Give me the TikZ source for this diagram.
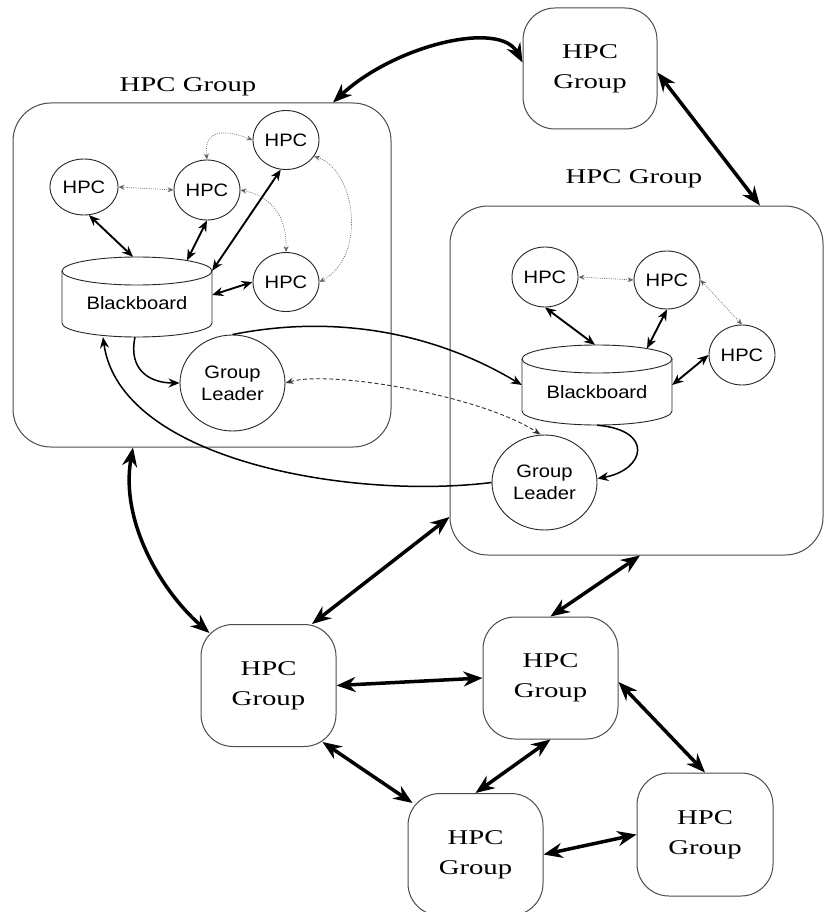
\documentclass[tikz,border=0pt]{standalone}
\usepackage{fontspec}
\usepackage{graphicx}
\setmainfont{Liberation Serif}
\setsansfont{Liberation Sans}
\usetikzlibrary{arrows.meta,shapes.geometric}
\newcommand{\sxs}[1]{\scalebox{1.37}[1]{#1}}
\newcommand{\sxa}[1]{\scalebox{1.12}[1]{#1}}
\begin{document}
\begin{tikzpicture}[x=1pt,y=-1pt,
  bigbox/.style={draw=black!70, line width=1pt, rounded corners=38pt, inner sep=0pt},
  grplabel/.style={font=\fontsize{21}{25}\selectfont, inner sep=0pt},
  grpbox/.style={draw=black!70, line width=1pt, rounded corners=32pt, inner sep=0pt,
    minimum width=135pt, minimum height=122pt, align=center, font=\fontsize{21}{30}\selectfont},
  ringnode/.style={ellipse, draw=black!85, line width=0.9pt, inner sep=0pt, align=center,
    font=\sffamily\fontsize{18}{22}\selectfont},
  hpc/.style={ringnode, minimum width=66pt, minimum height=59pt},
  leader/.style={ringnode, minimum width=105pt, minimum height=96pt},
  bbtext/.style={font=\sffamily\fontsize{18}{22}\selectfont, inner sep=0pt},
  bbgeom/.style={minimum width=150pt, minimum height=80pt, inner sep=0pt},
  cyl/.style={draw=black!85, line width=0.9pt},
  biglink/.style={line width=3.5pt, {Stealth[length=19pt,width=15pt]}-{Stealth[length=19pt,width=15pt]}},
  midlink/.style={line width=1.9pt, {Stealth[length=11pt,width=9pt]}-{Stealth[length=11pt,width=9pt]}},
  onelink/.style={line width=1.5pt, -{Stealth[length=11pt,width=9pt]}},
  dotlink/.style={line width=0.6pt, black!60, dash pattern=on 1pt off 1.2pt,
    {Stealth[length=6pt,width=5pt]}-{Stealth[length=6pt,width=5pt]}},
  dashlink/.style={line width=0.9pt, black!80, dash pattern=on 4pt off 2.5pt,
    {Stealth[length=8pt,width=6pt]}-{Stealth[length=8pt,width=6pt]}}
]
\path[use as bounding box, fill=white] (0,0) rectangle (824,912);

% big group boxes
\node[bigbox, minimum width=378pt, minimum height=344pt] (G1) at (202,275) {};
\node[bigbox, minimum width=373pt, minimum height=349pt] (G2) at (636.5,380.5) {};
\node[grplabel] (G1lab) at (188,87) {\sxs{HPC Group}};
\node[grplabel] (G2lab) at (634,179) {\sxs{HPC Group}};

% small group boxes
\node[grpbox, minimum width=134pt, minimum height=121pt] (T) at (590,68.5) {\sxs{HPC}\\\sxs{Group}};
\node[grpbox] (B1) at (268.5,685.5) {\sxs{HPC}\\\sxs{Group}};
\node[grpbox] (B2) at (550.5,678) {\sxs{HPC}\\\sxs{Group}};
\node[grpbox] (B3) at (475.5,854.5) {\sxs{HPC}\\\sxs{Group}};
\node[grpbox, minimum width=136pt, minimum height=123pt] (B4) at (705,834.5) {\sxs{HPC}\\\sxs{Group}};

% left group interior
\node[hpc] (H1) at (286,140) {\sxa{HPC}};
\node[hpc, minimum width=68pt, minimum height=56pt] (H2) at (84,187) {\sxa{HPC}};
\node[hpc, minimum height=60pt] (H3) at (207,190) {\sxa{HPC}};
\node[hpc] (H4) at (286,282) {\sxa{HPC}};
\node[leader] (L1) at (232.5,383) {\sxa{Group}\\\sxa{Leader}};
\node[bbgeom] (BB1) at (137,297) {};
\draw[cyl] (62,271) -- (62,323) .. controls (62,330.7) and (95.6,337) .. (137,337)
  .. controls (178.4,337) and (212,330.7) .. (212,323) -- (212,271);
\draw[cyl] (137,271) ellipse [x radius=75, y radius=14];
\node[bbtext] (BB1t) at (137,303) {\sxa{Blackboard}};

% right group interior
\node[hpc, minimum height=60pt] (Ha) at (545,277) {\sxa{HPC}};
\node[hpc, minimum height=58pt] (Hb) at (667,280) {\sxa{HPC}};
\node[hpc, minimum height=60pt] (Hc) at (742,355) {\sxa{HPC}};
\node[leader, minimum height=95pt] (L2) at (544.5,482.5) {\sxa{Group}\\\sxa{Leader}};
\node[bbgeom] (BB2) at (597,385) {};
\draw[cyl] (522,359) -- (522,411) .. controls (522,418.7) and (555.6,425) .. (597,425)
  .. controls (638.4,425) and (672,418.7) .. (672,411) -- (672,359);
\draw[cyl] (597,359) ellipse [x radius=75, y radius=14];
\node[bbtext] (BB2t) at (597,392) {\sxa{Blackboard}};

% big links between groups
\draw[biglink] ([xshift=131pt]G1.north) .. controls (395,45) and (500,20) .. ([yshift=6pt]T.west);
\draw[biglink] ([yshift=-4pt]T.east) -- ([xshift=123.5pt]G2.north);
\draw[biglink] ([xshift=-69pt]G1.south) .. controls (120,520) and (160,590) .. ([xshift=9pt,yshift=-9pt]B1.north west);
\draw[biglink] ([xshift=43.5pt]B1.north) -- ([yshift=-136.5pt]G2.west);
\draw[biglink] (B2.north) -- ([xshift=3.5pt]G2.south);
\draw[biglink] (B1.east) -- (B2.west);
\draw[biglink] ([xshift=-14pt,yshift=5pt]B1.south east) -- ([xshift=5pt,yshift=-10pt]B3.north west);
\draw[biglink] (B2.south) -- (B3.north);
\draw[biglink] ([yshift=-4pt]B2.east) -- (B4.north);
\draw[biglink] (B3.east) -- (B4.west);

% left interior links
\draw[midlink] (H2.-80) -- ([xshift=-4pt]BB1.north);
\draw[midlink] (H3.south) -- ([xshift=50pt,yshift=-3.6pt]BB1.north);
\draw[midlink] (H1.-100) -- ([yshift=-14pt]BB1.north east);
\draw[midlink] (H4.west) -- ([yshift=2pt]BB1.east);
\draw[dotlink] (H2.east) -- (H3.west);
\draw[dotlink] (H3.north) .. controls (203,125) and (232,132) .. (H1.west);
\draw[dotlink] (H3.east) .. controls (265,195) and (287,210) .. (H4.north);
\draw[dotlink] (H1.-30) .. controls (355,170) and (368,255) .. (H4.east);
\draw[onelink] ([xshift=-2pt]BB1.south) .. controls (128,370) and (150,383) .. (L1.west);

% right interior links
\draw[midlink] (Ha.south) -- ([xshift=-2pt]BB2.north);
\draw[midlink] (Hb.south) -- ([xshift=50pt,yshift=-3.6pt]BB2.north);
\draw[midlink] (Hc.west) -- (BB2.east);
\draw[dotlink] (Ha.east) -- (Hb.west);
\draw[dotlink] (Hb.east) -- (Hc.north);
\draw[onelink] (BB2.south) .. controls (655,430) and (645,470) .. ([yshift=4pt]L2.east);

% leader links between groups
\draw[onelink] (L1.north) .. controls (330,315) and (430,330) .. (BB2.west);
\draw[onelink] (L2.west) .. controls (350,500) and (120,460) .. ([xshift=-34pt]BB1.south);
\draw[dashlink] (L1.east) .. controls (330,370) and (480,395) .. ([xshift=-4pt]L2.north);
\end{tikzpicture}
\end{document}
